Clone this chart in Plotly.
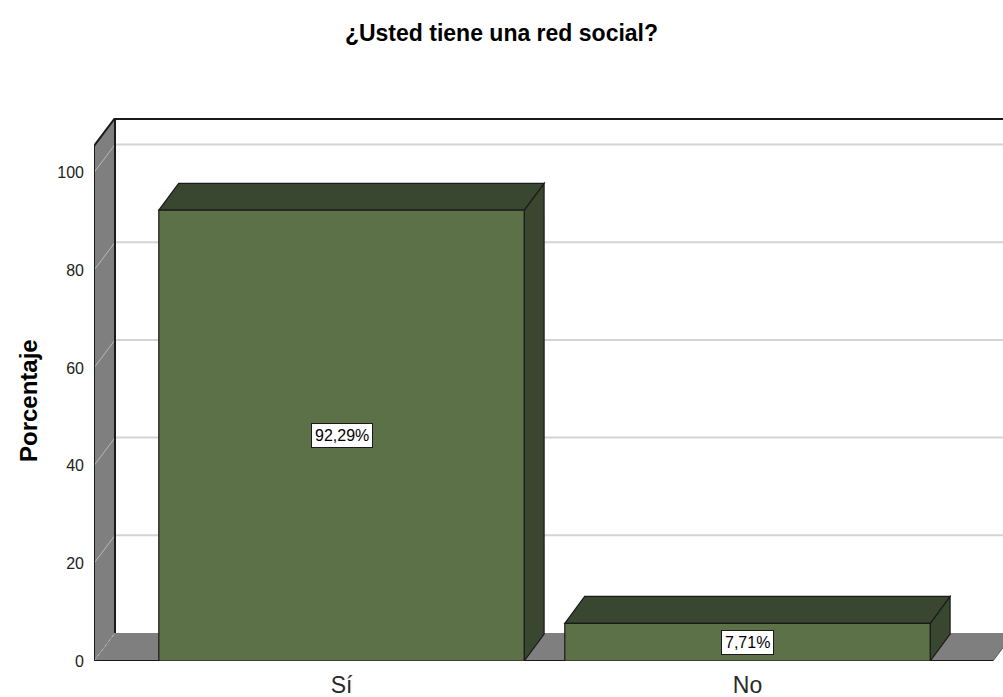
import plotly.graph_objects as go

# ---- data ----
categories = ["Sí", "No"]
percentages = [92.29, 7.71]
y_ticks = [0, 20, 40, 60, 80, 100]
title_text = "¿Usted tiene una red social?"
y_title = "Porcentaje"

# ---- styling / geometry ----
FONT = "Liberation Sans, Arial, sans-serif"
FRONT = "#5C7148"
DARK = "#3A4730"
GRAY = "#7F7F7F"
GRID = "#D4D4D4"
LINE = "#1A1A1A"

x_pos = list(range(len(categories)))
bar_w = 0.9
x_min, x_max = -0.6096, 1.6293
y_max = 111.16
wdx, wdy = 0.0517, 5.73      # depth of walls / floor
bdx, bdy = 0.049, 5.5        # depth of bars
floor_right = 1.6047

shapes = []

def path(pts):
    return "M " + " L ".join(f"{x},{y}" for x, y in pts) + " Z"

# back wall (white)
shapes.append(dict(type="path", layer="below", xref="x", yref="y",
                   path=path([(x_min + wdx, wdy), (x_min + wdx, y_max), (x_max + 1, y_max), (x_max + 1, wdy)]),
                   fillcolor="white", line=dict(width=0)))
# gridlines on back wall
for v in y_ticks[1:]:
    shapes.append(dict(type="line", layer="below", xref="x", yref="y",
                       x0=x_min + wdx, x1=x_max + 1, y0=v + wdy, y1=v + wdy,
                       line=dict(color=GRID, width=2)))
# floor
shapes.append(dict(type="path", layer="below", xref="x", yref="y",
                   path=path([(x_min, 0), (floor_right, 0), (floor_right + wdx, wdy), (x_min + wdx, wdy)]),
                   fillcolor=GRAY, line=dict(width=0)))
# left wall
shapes.append(dict(type="path", layer="below", xref="x", yref="y",
                   path=path([(x_min, 0), (x_min, y_max - wdy), (x_min + wdx, y_max), (x_min + wdx, wdy)]),
                   fillcolor=GRAY, line=dict(width=0)))
for v in y_ticks:
    shapes.append(dict(type="line", layer="below", xref="x", yref="y",
                       x0=x_min, x1=x_min + wdx, y0=v, y1=v + wdy,
                       line=dict(color="#B8B8B8", width=1, dash="dot" if v == 0 else "solid")))
# outlines of the frame
shapes.append(dict(type="line", layer="below", xref="x", yref="y",
                   x0=x_min, x1=floor_right, y0=0, y1=0, line=dict(color=LINE, width=2)))
shapes.append(dict(type="line", layer="below", xref="x", yref="y",
                   x0=x_min, x1=x_min, y0=0, y1=y_max - wdy, line=dict(color=LINE, width=2)))
shapes.append(dict(type="line", layer="below", xref="x", yref="y",
                   x0=x_min, x1=x_min + wdx, y0=y_max - wdy, y1=y_max, line=dict(color=LINE, width=2)))
shapes.append(dict(type="line", layer="below", xref="x", yref="y",
                   x0=x_min + wdx, x1=x_min + wdx, y0=wdy, y1=y_max, line=dict(color=LINE, width=2)))
shapes.append(dict(type="line", layer="below", xref="x", yref="y",
                   x0=x_min + wdx, x1=x_max + 1, y0=y_max - 0.2, y1=y_max - 0.2, line=dict(color=LINE, width=2)))
shapes.append(dict(type="line", layer="below", xref="x", yref="y",
                   x0=floor_right, x1=floor_right + wdx, y0=0, y1=wdy, line=dict(color="#5A5A5A", width=1)))

# 3D faces of bars (top and side), computed from data
for xc, v in zip(x_pos, percentages):
    x0, x1 = xc - bar_w / 2, xc + bar_w / 2
    shapes.append(dict(type="path", layer="below", xref="x", yref="y",
                       path=path([(x1, 0), (x1, v), (x1 + bdx, v + bdy), (x1 + bdx, bdy)]),
                       fillcolor=DARK, line=dict(color=LINE, width=1.2)))
    shapes.append(dict(type="path", layer="below", xref="x", yref="y",
                       path=path([(x0, v), (x0 + bdx, v + bdy), (x1 + bdx, v + bdy), (x1, v)]),
                       fillcolor=DARK, line=dict(color=LINE, width=1.2)))

fig = go.Figure()
fig.add_trace(go.Bar(x=x_pos, y=percentages, width=bar_w,
                     marker=dict(color=FRONT, line=dict(color=LINE, width=1.2)),
                     hoverinfo="skip"))

annotations = []
for xc, v in zip(x_pos, percentages):
    txt = f"{v:.2f}".replace(".", ",") + "%"
    annotations.append(dict(x=xc, y=v / 2, xref="x", yref="y", text=txt, showarrow=False,
                            bgcolor="white", bordercolor=LINE, borderwidth=1, borderpad=3,
                            font=dict(family=FONT, size=16, color="black")))
annotations.append(dict(x=(28 - 94) / 909, y=(661 - 401) / 543, xref="paper", yref="paper",
                        xanchor="center", yanchor="middle", text=f"<b>{y_title}</b>",
                        showarrow=False, textangle=-90, font=dict(family=FONT, size=24, color="black")))

fig.update_layout(
    width=1003, height=697,
    margin=dict(l=94, r=0, t=118, b=36),
    paper_bgcolor="white", plot_bgcolor="white",
    showlegend=False,
    title=dict(text=f"<b>{title_text}</b>", x=0.5, xanchor="center", y=1 - 33 / 697, yanchor="middle",
               font=dict(family=FONT, size=23, color="black")),
    xaxis=dict(range=[x_min, x_max], tickvals=x_pos, ticktext=categories, showgrid=False,
               zeroline=False, showline=False, ticks="", ticklabelstandoff=8,
               tickfont=dict(family=FONT, size=23, color="#2a2a2a")),
    yaxis=dict(range=[0, y_max], tickvals=y_ticks, showgrid=False, zeroline=False, showline=False,
               ticks="", ticklabelstandoff=9, tickfont=dict(family=FONT, size=16, color="#222")),
    shapes=shapes,
    annotations=annotations,
)

fig.write_html("out.html", config={"displayModeBar": False},
               post_script="document.body.style.margin='0';document.body.style.overflow='hidden';")
